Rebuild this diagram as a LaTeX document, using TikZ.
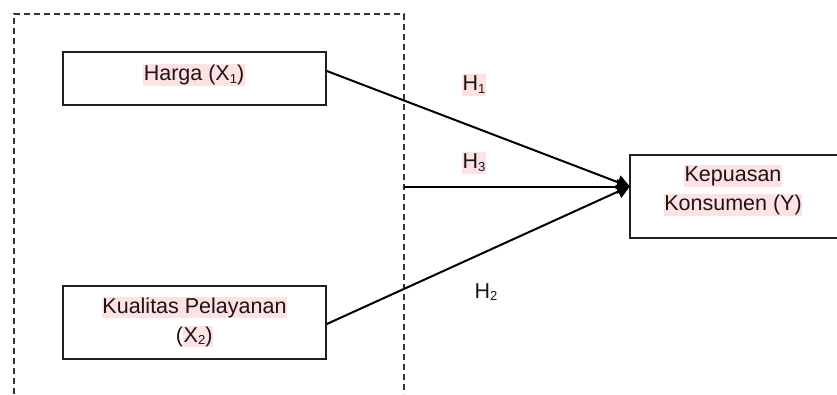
\documentclass[tikz,border=0pt]{standalone}
\usepackage{fontspec}
\setmainfont{Liberation Sans}
\usetikzlibrary{arrows.meta}
\definecolor{hlpink}{RGB}{252,226,226}
\definecolor{ink}{RGB}{30,20,20}
\newcommand\hlt[1]{{\setlength{\fboxsep}{0.6pt}\colorbox{hlpink}{\rule[-0.21em]{0pt}{0.93em}#1}}}
\newcommand\sub[1]{\raisebox{-0.12em}{\scriptsize\fontsize{13}{13}\selectfont #1}}
\begin{document}
\begin{tikzpicture}[x=1pt,y=-1pt,
  box/.style={draw=black!88, line width=1.6pt, inner sep=0pt},
  txt/.style={font=\fontsize{21.5}{29}\selectfont, text=ink, align=center, inner sep=0pt},
  arr/.style={draw=black, line width=2pt, -{Triangle[length=13pt,width=14pt]}, shorten >=-1pt},
  frame/.style={draw=black!80, line width=1.3pt, dash pattern=on 6pt off 4pt}]
\useasboundingbox (0,0) rectangle (837,394);
\draw[frame] (14,394) -- (14,14) -- (404,14) -- (404,394);
\node[box, minimum width=263pt, minimum height=53pt] (x1) at (194.5,78.5) {};
\node[txt] (x1t) at (194,75) {\hlt{Harga (X\sub{1})}};
\node[box, minimum width=263pt, minimum height=73pt] (x2) at (194.5,322.5) {};
\node[txt] (x2t) at (194.5,322) {\hlt{Kualitas Pelayanan}\\(\hlt{X\sub{2})}};
\node[box, minimum width=216pt, minimum height=83pt] (y) at (738,196.5) {};
\node[txt] (yt) at (733,190.5) {\hlt{Kepuasan}\\\hlt{Konsumen (Y)}};
\coordinate (tip) at ([yshift=10pt]y.west);
\coordinate (d3) at (404,186.5);
\draw[arr] ([yshift=7.5pt]x1.east) -- (tip);
\draw[arr] ([yshift=-1.5pt]x2.east) -- (tip);
\draw[arr] (d3) -- (tip);
\node[txt] (h1) at (474,85) {\hlt{H\sub{1}}};
\node[txt] (h3) at (474,163) {\hlt{H\sub{3}}};
\node[txt] (h2) at (486,292) {H\sub{2}};
\end{tikzpicture}
\end{document}
